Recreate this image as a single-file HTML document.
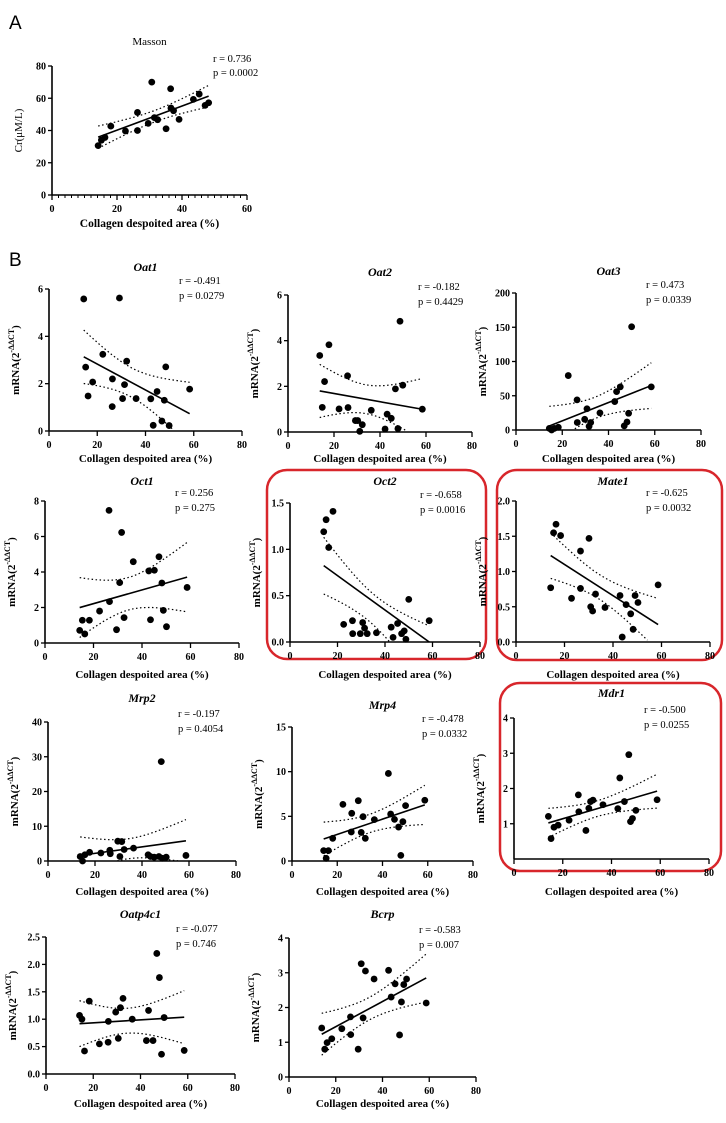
<!DOCTYPE html>
<html><head><meta charset="utf-8"><style>
html,body{margin:0;padding:0;background:#fff;}
svg{display:block;font-family:"Liberation Serif",serif;}
</style></head><body>
<svg id="fig" width="726" height="1123" viewBox="0 0 726 1123" xmlns="http://www.w3.org/2000/svg">
<text x="9" y="29" font-family="Liberation Sans,sans-serif" font-size="19">A</text>
<text x="9" y="266" font-family="Liberation Sans,sans-serif" font-size="19">B</text>
<rect x="267" y="470" width="219" height="189" rx="20" fill="none" stroke="#d8262b" stroke-width="2.5"/>
<rect x="497" y="470" width="225" height="190" rx="20" fill="none" stroke="#d8262b" stroke-width="2.5"/>
<rect x="500" y="683" width="221" height="188" rx="20" fill="none" stroke="#d8262b" stroke-width="2.5"/>
</svg>
<script>
// ---- data ----
const massonX=[14.2,15.2,16.3,18.1,22.6,26.3,26.3,29.6,30.7,31.5,32.5,35.1,36.5,36.6,37.4,39.1,43.5,45.3,47.1,48.2];
const massonY=[30.6,34,35.7,42.7,39.7,51.2,40,44.4,70,48,46.7,41.1,65.9,53.9,52.3,46.9,59.3,62.6,55.6,57.2];
const oat1X=[14.4,15.2,16.2,18.1,22.3,26.2,26.3,29.2,30.5,31.3,32.2,36.1,42.2,43.2,44.8,46.8,47.8,48.4,49.8,58.3];
const oat1Y=[5.58,2.7,1.48,2.07,3.24,1.03,2.2,5.62,1.37,1.96,2.95,1.37,1.36,0.24,1.67,0.42,1.3,2.71,0.23,1.77];
const oat2X=[13.8,14.9,15.9,17.8,22.2,25.9,26.1,29.3,30.3,31.2,32.3,36.2,42.2,43.1,44.9,46.7,47.8,48.7,49.9,58.4];
const oat2Y=[3.35,1.08,2.21,3.82,1.01,2.46,1.07,0.5,0.5,0.03,0.32,0.95,0.13,0.78,0.6,1.89,0.15,4.85,2.05,1.0];
const oat3X=[14.4,15.4,16.6,18.3,22.6,26.4,26.5,29.7,30.7,31.6,32.3,36.3,42.7,43.5,45.1,46.8,48,48.7,50,58.5];
const oat3Y=[2.4,0,2.4,4,79.5,44,11,15.6,31,5.4,11,25,41.5,56,63,6,11.7,24.4,150.7,63];
const oct1X=[14.3,15.4,16.4,18.3,22.5,26.4,26.6,29.5,30.8,31.6,32.6,36.4,42.8,43.5,45.1,47,48.2,48.8,50.1,58.6];
const oct1Y=[0.71,1.28,0.51,1.28,1.8,7.47,2.33,0.75,3.4,6.23,1.43,4.58,4.06,1.31,4.1,4.86,3.38,1.84,0.92,3.13];
const oct2X=[14.2,15.2,16.3,18.1,22.6,26.3,26.4,29.6,30.6,31.4,32.5,36.4,42.6,43.4,45.3,47,48.1,48.8,50,58.6];
const oct2Y=[1.19,1.32,1.02,1.41,0.19,0.23,0.09,0.09,0.21,0.15,0.09,0.1,0.16,0.05,0.2,0.09,0.12,0.03,0.46,0.23];
const mate1X=[14.3,15.5,16.5,18.4,22.9,26.6,26.6,30.1,30.8,31.6,32.8,36.7,42.9,43.8,45.4,47.3,48.3,49.1,50.3,58.6];
const mate1Y=[0.77,1.55,1.67,1.51,0.62,1.29,0.76,1.47,0.5,0.44,0.68,0.49,0.66,0.07,0.53,0.4,0.18,0.66,0.56,0.81];
const mrp2X=[13.7,14.7,15.7,17.7,22.5,26.3,26.5,29.7,30.6,31.4,32.4,36.4,42.6,43.6,45.2,47.2,48.2,48.6,50.3,58.7];
const mrp2Y=[1.3,0,1.8,2.5,2.3,3.1,2.1,5.7,1.3,5.6,3.3,3.7,1.8,1.3,1.1,1.3,28.6,0.8,1.1,1.6];
const mrp4X=[14,15.1,16.1,18,22.5,26.2,26.4,29.3,30.6,31.4,32.4,36.4,42.6,43.6,45.3,47.1,48.1,49,50.2,58.7];
const mrp4Y=[1.16,0.3,1.16,2.54,6.34,3.25,5.34,6.75,3.2,4.96,2.54,4.63,9.8,5.26,4.66,3.8,0.63,4.4,6.2,6.8];
const mdr1X=[14.1,15.2,16.4,18.1,22.6,26.4,26.6,29.5,30.7,31.4,32.4,36.5,42.6,43.4,45.3,47.1,47.8,48.6,50,58.7];
const mdr1Y=[1.21,0.58,0.9,0.96,1.1,1.82,1.34,0.81,1.44,1.63,1.67,1.54,1.43,2.3,1.63,2.96,1.06,1.15,1.38,1.68];
const oatp4c1X=[14.2,15.2,16.3,18.3,22.6,26.3,26.4,29.5,30.6,31.5,32.6,36.5,42.5,43.4,45.3,46.9,48,48.9,50,58.5];
const oatp4c1Y=[1.07,1.0,0.42,1.33,0.55,0.58,0.96,1.13,0.65,1.21,1.38,1.0,0.61,1.16,0.61,2.2,1.76,0.36,1.03,0.43];
const bcrpX=[14,15.3,16.3,18.3,22.6,26.3,26.4,29.6,30.9,31.7,32.7,36.4,42.6,43.7,45.4,47.3,48.1,49.1,50.3,58.7];
const bcrpY=[1.41,0.8,0.99,1.1,1.39,1.73,1.22,0.8,3.26,1.7,3.05,2.82,3.07,2.3,2.68,1.21,2.16,2.66,2.82,2.13];
const ticks8=[0,2,4,6,8], ticks6=[0,2,4,6];
const xTicks80=[0,20,40,60,80], xTicks60=[0,20,40,60];
const statsR=["0.736","-0.491","-0.182","0.473","0.256","-0.658","-0.625","-0.197","-0.478","-0.500","-0.077","-0.583"];
const statsP=["0.0002","0.0279","0.4429","0.0339","0.275","0.0016","0.0032","0.4054","0.0332","0.0255","0.746","0.007"];

// ---- layout ----
const panels=[
 {id:'masson',t:'Masson',x:massonX,y:massonY,ax:52,y0:195,yt:66,xe:247,xmax:60,ymax:80,yl:[0,20,40,60,80],xt:xTicks60,ty:45,xly:227,a:true},
 {id:'oat1',t:'Oat1',x:oat1X,y:oat1Y,ax:49,y0:431,yt:289,xe:242,xmax:80,ymax:6,yl:ticks6,xt:xTicks80,ty:271,xly:462},
 {id:'oat2',t:'Oat2',x:oat2X,y:oat2Y,ax:288,y0:432,yt:295,xe:472,xmax:80,ymax:6,yl:ticks6,xt:xTicks80,ty:276,xly:462},
 {id:'oat3',t:'Oat3',x:oat3X,y:oat3Y,ax:516,y0:430,yt:293,xe:701,xmax:80,ymax:200,yl:[0,50,100,150,200],xt:xTicks80,ty:275,xly:462},
 {id:'oct1',t:'Oct1',x:oct1X,y:oct1Y,ax:45,y0:643,yt:501,xe:239,xmax:80,ymax:8,yl:ticks8,xt:xTicks80,ty:485,xly:678},
 {id:'oct2',t:'Oct2',x:oct2X,y:oct2Y,ax:290,y0:642,yt:503,xe:480,xmax:80,ymax:1.5,yl:[0,0.5,1.0,1.5],dec:1,xt:xTicks80,ty:485,xly:678},
 {id:'mate1',t:'Mate1',x:mate1X,y:mate1Y,ax:516,y0:642,yt:501,xe:710,xmax:80,ymax:2,yl:[0,0.5,1.0,1.5,2.0],dec:1,xt:xTicks80,ty:485,xly:678},
 {id:'mrp2',t:'Mrp2',x:mrp2X,y:mrp2Y,ax:48,y0:861,yt:722,xe:236,xmax:80,ymax:40,yl:[0,10,20,30,40],xt:xTicks80,ty:702,xly:895},
 {id:'mrp4',t:'Mrp4',x:mrp4X,y:mrp4Y,ax:292,y0:861,yt:727,xe:473,xmax:80,ymax:15,yl:[0,5,10,15],xt:xTicks80,ty:709,xly:895},
 {id:'mdr1',t:'Mdr1',x:mdr1X,y:mdr1Y,ax:514,y0:859,yt:718,xe:709,xmax:80,ymax:4,yl:[1,2,3,4],xt:xTicks80,ty:697,xly:895},
 {id:'oatp4c1',t:'Oatp4c1',x:oatp4c1X,y:oatp4c1Y,ax:46,y0:1074,yt:937,xe:235,xmax:80,ymax:2.5,yl:[0,0.5,1.0,1.5,2.0,2.5],dec:1,xt:xTicks80,ty:918,xly:1107},
 {id:'bcrp',t:'Bcrp',x:bcrpX,y:bcrpY,ax:289,y0:1077,yt:938,xe:476,xmax:80,ymax:4,yl:[0,1,2,3,4],xt:xTicks80,ty:918,xly:1107}
];
const NS='http://www.w3.org/2000/svg';
const svg=document.getElementById('fig');
function mk(tag,attrs,parent){const e=document.createElementNS(NS,tag);for(const k in attrs)e.setAttribute(k,attrs[k]);(parent||svg).appendChild(e);return e;}

panels.forEach((p,pi)=>{
  const g=mk('g',{});
  
  
  const sx=v=>p.ax+(v/p.xmax)*(p.xe-p.ax);
  const sy=v=>p.y0-(v/p.ymax)*(p.y0-p.yt);
  const ya=mk('line',{x1:p.ax,y1:p.y0,x2:p.ax,y2:p.yt,stroke:'#000','stroke-width':1.6},g);
  
  
  const xa=mk('line',{x1:p.ax,y1:p.y0,x2:p.xe,y2:p.y0,stroke:'#000','stroke-width':1.6},g);
  
  
  p.yl.forEach(v=>{
    const yy=sy(v);
    mk('line',{x1:p.ax-4,y1:yy,x2:p.ax,y2:yy,stroke:'#000','stroke-width':1.3},g);
    const t=mk('text',{x:p.ax-6,y:yy+3.5,'text-anchor':'end','font-size':10,'font-weight':'bold'},g);
    t.textContent=p.dec?v.toFixed(1):String(v);
    
    
  });
  if(p.a){for(let v=0;v<=p.xmax;v+=2){mk('line',{x1:sx(v),y1:p.y0,x2:sx(v),y2:p.y0+(v%20===0?5:3),stroke:'#000','stroke-width':1},g);}}
  p.xt.forEach(v=>{
    const xx=sx(v);
    mk('line',{x1:xx,y1:p.y0,x2:xx,y2:p.y0+5,stroke:'#000','stroke-width':1.3},g);
    const t=mk('text',{x:xx,y:p.y0+17,'text-anchor':'middle','font-size':10,'font-weight':'bold'},g);
    t.textContent=String(v);
    
    
  });
  const cx=(p.ax+p.xe)/2;
  const tt=mk('text',{x:cx,y:p.ty,'text-anchor':'middle','font-size':p.a?11:12,'font-weight':p.a?'normal':'bold','font-style':p.a?'normal':'italic'},g);
  tt.textContent=p.t;
  
  
  const xl=mk('text',{x:cx,y:p.xly,'text-anchor':'middle','font-size':p.a?11.5:11,'font-weight':'bold'},g);
  xl.textContent='Collagen despoited area (%)';
  
  
  const ly=(p.y0+p.yt)/2, lx=p.ax-30;
  const yl=mk('text',{x:lx,y:ly,'text-anchor':'middle','font-size':11,'font-weight':p.a?'normal':'bold',transform:`rotate(-90 ${lx} ${ly})`},g);
  
  
  if(p.a){yl.textContent='Cr(μM/L)';}
  else{
    yl.appendChild(document.createTextNode('mRNA(2'));
    const sup=mk('tspan',{'font-size':8,dy:-5},yl);sup.textContent='-ΔΔCT';
    const cl=mk('tspan',{dy:5},yl);cl.textContent=')';
  }
  const st1=mk('text',{x:p.ax+(p.a?161:130),y:p.yt-(p.a?4:5),'font-size':10.5},g);
  st1.textContent='r = '+statsR[pi];
  
  
  const st2=mk('text',{x:p.ax+(p.a?161:130),y:p.yt+10,'font-size':10.5},g);
  st2.textContent='p = '+statsP[pi];
  
  
  const n=p.x.length;
  const mx=p.x.reduce((a,b)=>a+b,0)/n, my=p.y.reduce((a,b)=>a+b,0)/n;
  let sxx=0,sxy=0;for(let i=0;i<n;i++){sxx+=(p.x[i]-mx)**2;sxy+=(p.x[i]-mx)*(p.y[i]-my);}
  const b=sxy/sxx,a=my-b*mx;
  let sse=0;for(let i=0;i<n;i++){sse+=(p.y[i]-a-b*p.x[i])**2;}
  const s=Math.sqrt(sse/(n-2)),tc=2.101;
  const xmin=Math.min(...p.x),xmx=Math.max(...p.x);
  const clipY=v=>Math.max(0,Math.min(p.ymax,v));
  let up=[],lo=[];
  for(let k=0;k<=40;k++){
    const xv=xmin+(xmx-xmin)*k/40;const yh=a+b*xv;const h=tc*s*Math.sqrt(1/n+(xv-mx)**2/sxx);
    if(yh+h>=0&&yh+h<=p.ymax)up.push(sx(xv).toFixed(1)+','+sy(yh+h).toFixed(1));
    if(yh-h>=0&&yh-h<=p.ymax)lo.push(sx(xv).toFixed(1)+','+sy(yh-h).toFixed(1));
  }
  [up,lo].forEach((arr,j)=>{if(arr.length>1){const pl=mk('polyline',{points:arr.join(' '),fill:'none',stroke:'#000','stroke-width':1.2,'stroke-dasharray':'1.5 2.5'},g);
    
    }});
  const y1=a+b*xmin,y2=a+b*xmx;
  const rl=mk('line',{x1:sx(xmin),y1:sy(clipY(y1)),x2:sx(xmx),y2:sy(clipY(y2)),stroke:'#000','stroke-width':1.6},g);
  
  
  for(let i=0;i<n;i++){
    const c=mk('circle',{cx:sx(p.x[i]),cy:sy(p.y[i]),r:3.4,fill:'#000'},g);
    
    
  }
});
</script>
</body></html>
